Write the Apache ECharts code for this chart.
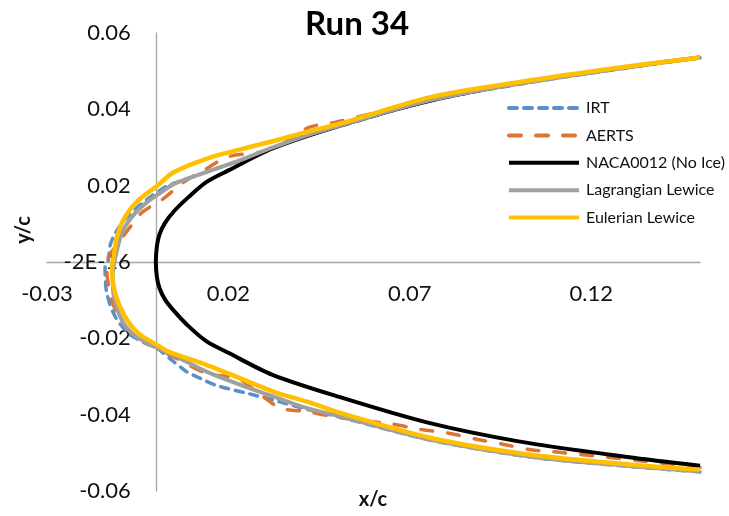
<!DOCTYPE html>
<html>
<head>
<meta charset="utf-8">
<script src="https://cdn.jsdelivr.net/npm/echarts@6/dist/echarts.min.js"></script>
<style>
html,body{margin:0;padding:0;background:#fff;}
#chart{width:729px;height:516px;}
</style>
</head>
<body>
<div id="chart"></div>
<script>
// ---- data (x/c, y/c) ----
const seriesNames = ['IRT', 'AERTS', 'NACA0012 (No Ice)', 'Lagrangian Lewice', 'Eulerian Lewice'];

const irtX = [0.15, 0.131, 0.1034, 0.0758, 0.051, 0.0417, 0.0325, 0.0252, 0.0169, 0.0123, 0.0086, 0.0049, 0.0003, -0.0029, -0.0075, -0.0112, -0.0135, -0.014, -0.0131, -0.0126, -0.0112, -0.0085, -0.004, 0.0021, 0.0049, 0.0141, 0.0233, 0.0325, 0.0417, 0.051, 0.0758, 0.1034, 0.13, 0.15];
const irtY = [-0.055, -0.0536, -0.0511, -0.0467, -0.0407, -0.0386, -0.0362, -0.0344, -0.0324, -0.0305, -0.0288, -0.0261, -0.0226, -0.0213, -0.0187, -0.0143, -0.0082, -0.0013, 0.0005, 0.0044, 0.0075, 0.0112, 0.0152, 0.0194, 0.0206, 0.0236, 0.0266, 0.03, 0.0331, 0.0357, 0.0423, 0.0471, 0.0509, 0.0535];

const aertsX = [0.15, 0.1347, 0.1117, 0.1034, 0.096, 0.0887, 0.0804, 0.0731, 0.0648, 0.0565, 0.0482, 0.0417, 0.0344, 0.0279, 0.0224, 0.0141, 0.0058, -0.002, -0.007, -0.0107, -0.0126, -0.0135, -0.0135, -0.0125, -0.01, -0.0068, -0.0038, 0.0021, 0.0075, 0.0135, 0.02, 0.0288, 0.035, 0.042, 0.0495, 0.0758, 0.1034, 0.13, 0.15];
const aertsY = [-0.0538, -0.0522, -0.0499, -0.0492, -0.0478, -0.0465, -0.0448, -0.0439, -0.0424, -0.0415, -0.0404, -0.0392, -0.0383, -0.034, -0.0305, -0.0292, -0.0253, -0.0215, -0.0185, -0.0135, -0.0082, -0.0021, 0, 0.0022, 0.0055, 0.0095, 0.013, 0.0166, 0.0208, 0.0242, 0.0276, 0.0288, 0.031, 0.0352, 0.0366, 0.0426, 0.0473, 0.0511, 0.0536];

const nacaX = [0.15, 0.13, 0.1, 0.075, 0.05, 0.032, 0.02, 0.014, 0.009, 0.005, 0.0025, 0.001, 0.0003, 0, 0.0003, 0.001, 0.0025, 0.005, 0.009, 0.014, 0.02, 0.032, 0.05, 0.075, 0.1, 0.13, 0.15];
const nacaY = [-0.0534, -0.0511, -0.047, -0.0421, -0.0352, -0.0295, -0.0238, -0.0208, -0.0168, -0.0128, -0.0098, -0.0068, -0.004, 0, 0.0042, 0.0072, 0.0102, 0.0133, 0.017, 0.021, 0.024, 0.0297, 0.0355, 0.0421, 0.0468, 0.0511, 0.0536];

const lagX = [0.15, 0.131, 0.1034, 0.0758, 0.051, 0.0417, 0.0325, 0.0233, 0.0141, 0.0049, 0.0003, -0.0057, -0.0094, -0.0117, -0.0119, -0.0112, -0.0094, -0.0066, -0.0029, 0.0017, 0.0049, 0.0141, 0.0233, 0.0325, 0.0417, 0.051, 0.0758, 0.1034, 0.13, 0.15];
const lagY = [-0.0549, -0.0535, -0.051, -0.0466, -0.0405, -0.0383, -0.0353, -0.0322, -0.0288, -0.0244, -0.0224, -0.0194, -0.0152, -0.0082, -0.0035, 0.001, 0.0075, 0.0118, 0.0153, 0.0184, 0.0204, 0.0236, 0.0267, 0.0301, 0.0332, 0.0358, 0.0424, 0.0472, 0.051, 0.0536];

const eulX = [0.15, 0.131, 0.1034, 0.0758, 0.051, 0.0417, 0.0325, 0.0233, 0.0141, 0.0035, 0.0003, -0.0048, -0.0085, -0.0112, -0.0121, -0.0117, -0.0107, -0.0085, -0.0048, 0.0003, 0.0049, 0.0141, 0.0233, 0.0325, 0.0417, 0.051, 0.0758, 0.1034, 0.13, 0.15];
const eulY = [-0.0544, -0.0531, -0.0505, -0.0461, -0.0396, -0.0366, -0.034, -0.0305, -0.027, -0.0235, -0.0217, -0.0187, -0.0143, -0.0082, -0.0013, 0.001, 0.0066, 0.0118, 0.0162, 0.0199, 0.0235, 0.0271, 0.0295, 0.0317, 0.0341, 0.0363, 0.0432, 0.0476, 0.0512, 0.0536];

const xTicks = [-0.03, 0.02, 0.07, 0.12];
const yTicks = [-0.06, -0.04, -0.02, 0, 0.02, 0.04, 0.06];

function pairs(xs, ys) { return xs.map((x, i) => [x, ys[i]]); }

const FONT = 'Lato';
const chart = echarts.init(document.getElementById('chart'), null, { renderer: 'canvas' });

const lineSeries = (name, xs, ys, color, width, type, smooth) => ({
  name: name,
  type: 'line',
  data: pairs(xs, ys),
  showSymbol: false,
  symbol: 'none',
  smooth: smooth,
  clip: true,
  animation: false,
  lineStyle: { color: color, width: width, type: type, cap: type === 'solid' ? 'butt' : 'round' },
  itemStyle: { color: color }
});

const GRID = { left: 47, right: 29, top: 33, bottom: 25 };

chart.setOption({
  animation: false,
  backgroundColor: '#fff',
  grid: Object.assign({ containLabel: false, outerBoundsMode: 'none' }, GRID),
  xAxis: {
    type: 'value',
    position: 'bottom',
    offset: 0,
    min: -0.03, max: 0.15, interval: 0.05,
    axisLine: { show: true, onZero: false, lineStyle: { color: '#a6a6a6', width: 1.3 } },
    axisTick: { show: false },
    splitLine: { show: false },
    axisLabel: {
      showMaxLabel: false,
      margin: 21,
      color: '#111',
      fontFamily: FONT,
      fontSize: 22,
      formatter: v => {
        const t = xTicks.find(k => Math.abs(k - v) < 1e-9);
        return t === undefined ? '' : t.toFixed(2);
      }
    }
  },
  yAxis: {
    type: 'value',
    position: 'left',
    offset: 0,
    min: -0.06, max: 0.06, interval: 0.02,
    axisLine: { show: true, onZero: false, lineStyle: { color: '#a6a6a6', width: 1.3 } },
    axisTick: { show: false },
    splitLine: { show: false },
    axisLabel: {
      margin: 25,
      color: '#111',
      fontFamily: FONT,
      fontSize: 22,
      formatter: v => {
        const t = yTicks.find(k => Math.abs(k - v) < 1e-9);
        if (t === undefined) return '';
        return t === 0 ? '-2E-16' : t.toFixed(2);
      }
    }
  },
  legend: {
    orient: 'vertical',
    left: 507,
    top: 100,
    padding: 0,
    itemWidth: 70,
    itemHeight: 14,
    itemGap: 11.4,
    itemStyle: { opacity: 0 },
    lineStyle: { width: 4 },
    textStyle: { fontFamily: FONT, fontSize: 16, color: '#111', padding: [0, 0, 0, 2] },
    data: seriesNames
  },
  graphic: [
    { type: 'text', x: 357, y: 24, style: { text: 'Run 34', font: 'bold 33px ' + FONT, fill: '#000', align: 'center', verticalAlign: 'middle' } },
    { type: 'text', x: 373, y: 500, style: { text: 'x/c', font: 'bold 20px ' + FONT, fill: '#111', align: 'center', verticalAlign: 'middle' } },
    { type: 'text', x: 24, y: 230, rotation: Math.PI / 2, style: { text: 'y/c', font: 'bold 20px ' + FONT, fill: '#111', align: 'center', verticalAlign: 'middle' } }
  ],
  series: [
    lineSeries(seriesNames[0], irtX, irtY, '#5b8fc9', 3.5, [8, 7], 0.3),
    lineSeries(seriesNames[1], aertsX, aertsY, '#dc7436', 3.5, [12, 15], 0.3),
    lineSeries(seriesNames[2], nacaX, nacaY, '#000000', 4, 'solid', 0.3),
    lineSeries(seriesNames[3], lagX, lagY, '#a0a0a0', 4, 'solid', 0.3),
    lineSeries(seriesNames[4], eulX, eulY, '#ffc000', 4.5, 'solid', 0.3)
  ]
});

// Place the axes (line + labels) through the origin, like the reference's crossing axes.
const origin = chart.convertToPixel({ gridIndex: 0 }, [0, 0]);
const H = 516;
chart.setOption({
  xAxis: { offset: -((H - GRID.bottom) - origin[1]) },
  yAxis: { offset: -(origin[0] - GRID.left) }
});
</script>
</body>
</html>
